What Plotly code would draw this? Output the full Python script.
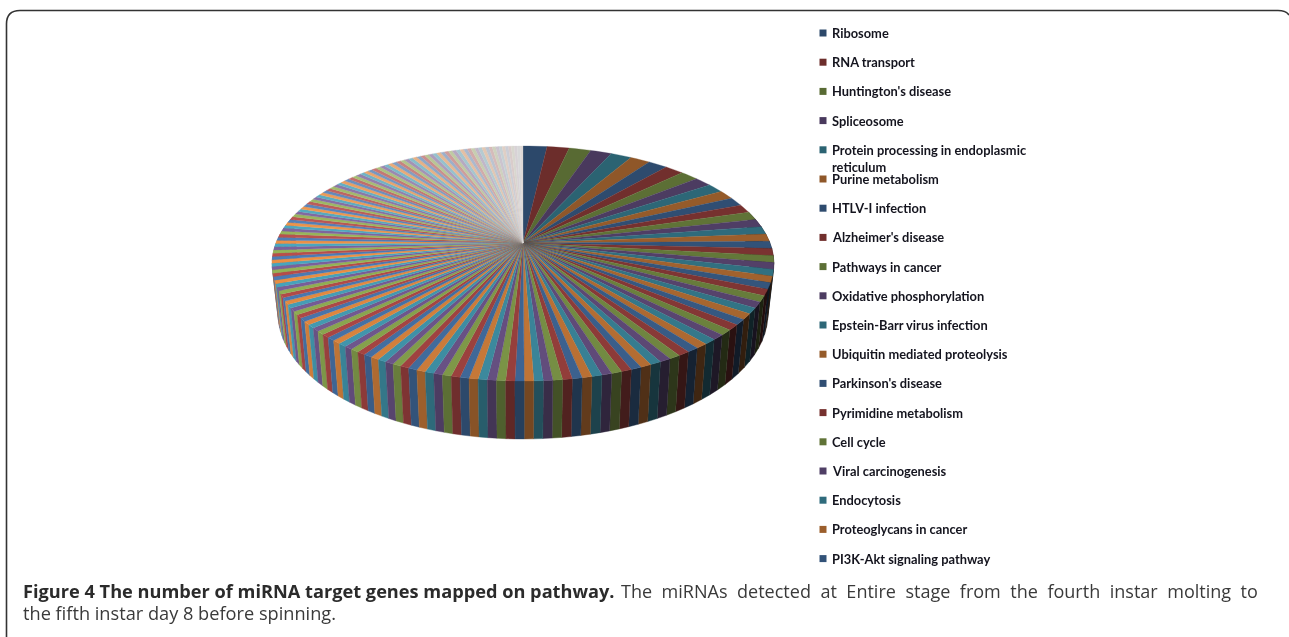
import math
import plotly.graph_objects as go

pathway_names = [
    "Ribosome", "RNA transport", "Huntington's disease", "Spliceosome",
    "Protein processing in endoplasmic<br>reticulum", "Purine metabolism",
    "HTLV-I infection", "Alzheimer's disease", "Pathways in cancer",
    "Oxidative phosphorylation", "Epstein-Barr virus infection",
    "Ubiquitin mediated proteolysis", "Parkinson's disease",
    "Pyrimidine metabolism", "Cell cycle", "Viral carcinogenesis",
    "Endocytosis", "Proteoglycans in cancer", "PI3K-Akt signaling pathway",
]

target_gene_counts = [
    115, 106, 104, 102, 100, 96, 93, 90, 87, 84, 80, 78, 75, 73, 71, 69, 67, 65, 63, 61,
    59, 57, 56, 55, 54, 53, 52, 51, 50, 49, 48, 47, 46, 45, 44, 43, 42, 41, 40, 40,
    39, 38, 37, 36, 36, 35, 35, 34, 34, 33, 33, 32, 32, 32, 31, 31,
    31, 31, 31, 31, 31, 31, 31, 31, 31, 31, 31, 31,
    30, 30, 30, 30, 30, 30, 30, 30, 30, 30, 30, 30, 30, 30, 30,
    29, 29, 29, 29, 29, 29, 29, 29, 29, 29, 29, 29, 29, 29,
    28, 28, 28, 28, 28, 28, 28, 28, 28, 28, 28, 28, 28, 28,
    27, 27, 27, 27, 27, 27, 26, 26, 26, 26, 26, 26,
    25, 25, 25, 25, 25, 25, 24, 24, 24, 24, 24, 24,
    23, 23, 23, 23, 23, 23, 22, 22, 22, 22, 22,
    21, 21, 21, 21, 21, 20, 20, 20, 20, 20,
    19, 19, 19, 19, 19, 18, 18, 18, 18,
    17, 17, 17, 17, 16, 16, 16, 15, 15, 15,
    14, 14, 14, 14, 14,
]

base_colors = [(79, 129, 189), (192, 80, 77), (155, 187, 89),
               (128, 100, 162), (75, 172, 198), (247, 150, 70)]
faded_color = (222, 218, 218)

caption_bold = "Figure 4 The number of miRNA target genes mapped on pathway."
caption_rest = "The miRNAs detected at Entire stage from the fourth instar molting to"
caption_line2 = "the fifth instar day 8 before spinning."

W, H = 1289, 637
CX, CY = 523.0, 243.0
A, B, C = 247.0, 113.9, 0.1745
RIM_MID, RIM_RY, BASE_MID, BASE_RY, BASE_SCALE = 263.5, 117.5, 314.0, 125.0, 245.0 / 251.0


def project(theta):
    den = 1 + C * math.cos(theta)
    return CX + A * math.sin(theta) / den, CY - B * math.cos(theta) / den


def base_point(theta):
    x, y = project(theta)
    return CX + (x - CX) * BASE_SCALE, BASE_MID + (y - RIM_MID) * BASE_RY / RIM_RY


def wedge_rgb(i, n):
    base = base_colors[i % 6]
    mid = n * 0.55
    if i <= mid:
        f = 0.56 + 0.40 * i / mid
        return tuple(c * f for c in base)
    t = ((i - mid) / (n - mid)) ** 1.7
    return tuple(0.96 * c * (1 - t) + g * t for c, g in zip(base, faded_color))


def css(rgb, f=1.0):
    return "rgb(%d,%d,%d)" % tuple(max(0, min(255, round(c * f))) for c in rgb)


total = sum(target_gene_counts)
n = len(target_gene_counts)
edges = [0.0]
for v in target_gene_counts:
    edges.append(edges[-1] + v / total * 2 * math.pi)

fig = go.Figure()

# side wall, back to front
wall = [i for i in range(n) if math.cos((edges[i] + edges[i + 1]) / 2) < 0.25]
wall.sort(key=lambda i: -math.cos((edges[i] + edges[i + 1]) / 2))
for i in wall:
    t0, t1 = edges[i], edges[i + 1]
    ts = [t0 + (t1 - t0) * k / 3 for k in range(4)]
    top = [project(t) for t in ts]
    bot = [base_point(t) for t in reversed(ts)]
    pts = top + bot + [top[0]]
    xm = (top[0][0] + top[-1][0]) / 2
    shade = 0.62 - 0.36 * (xm - CX) / 251.0
    col = css(wedge_rgb(i, n), shade)
    fig.add_trace(go.Scatter(x=[p[0] for p in pts], y=[p[1] for p in pts], mode="lines",
                             fill="toself", fillcolor=col, line=dict(color=col, width=0.4),
                             hoverinfo="skip", showlegend=False))

# top face
for i in range(n):
    t0, t1 = edges[i], edges[i + 1]
    pts = [(CX, CY)] + [project(t0 + (t1 - t0) * k / 4) for k in range(5)] + [(CX, CY)]
    col = css(wedge_rgb(i, n))
    label = pathway_names[i].replace("<br>", " ") if i < len(pathway_names) else "Pathway %d" % (i + 1)
    fig.add_trace(go.Scatter(x=[p[0] for p in pts], y=[p[1] for p in pts], mode="lines",
                             fill="toself", fillcolor=col, line=dict(color=col, width=0.3),
                             name=label, showlegend=False,
                             text=label, hoverinfo="text"))

# legend
LEG_X, LEG_Y0, LEG_STEP = 823.0, 33.0, 29.2
annotations = []
for i, name in enumerate(pathway_names):
    y = LEG_Y0 + LEG_STEP * i
    fig.add_trace(go.Scatter(x=[LEG_X], y=[y], mode="markers",
                             marker=dict(symbol="square", size=7, color=css(wedge_rgb(i, n))),
                             hoverinfo="skip", showlegend=False))
    for j, part in enumerate(name.split("<br>")):
        annotations.append(dict(x=LEG_X + 7, y=y + 17 * j, xref="x", yref="y", text=part,
                                showarrow=False, xanchor="left", yanchor="middle",
                                font=dict(family="Lato", size=12.85, color="#14141e", weight=700)))

# the first caption line is justified in the reference: words are spread with thin spaces
SPREAD = " \u2009\u200a"
annotations.append(dict(x=21, y=591, xref="x", yref="y", showarrow=False, xanchor="left", yanchor="middle",
                        text="<b>%s</b>" % caption_bold,
                        font=dict(family="Open Sans", size=18.2, color="#2b2b2b")))
annotations.append(dict(x=1260, y=591, xref="x", yref="y", showarrow=False, xanchor="right", yanchor="middle",
                        text=caption_rest.replace(" ", SPREAD),
                        font=dict(family="Open Sans", size=18.05, color="#3a3a3a")))
annotations.append(dict(x=21, y=613, xref="x", yref="y", showarrow=False, xanchor="left", yanchor="middle",
                        text=caption_line2, font=dict(family="Open Sans", size=18.2, color="#3a3a3a")))

fig.update_layout(
    width=W, height=H, margin=dict(l=0, r=0, t=0, b=0),
    paper_bgcolor="white", plot_bgcolor="white", showlegend=False,
    xaxis=dict(range=[0, W], visible=False, fixedrange=True),
    yaxis=dict(range=[H, 0], visible=False, fixedrange=True),
    annotations=annotations,
    shapes=[dict(type="path", xref="x", yref="y",
                 path="M 6.5 637 L 6.5 24 Q 6.5 10.5 20 10.5 L 1278 10.5 Q 1286 10.5 1289 15",
                 line=dict(color="#333333", width=1.6))],
)
fig.write_html(
    "out.html",
    config={"displayModeBar": False},
    post_script="document.body.style.margin='0';document.documentElement.style.overflow='hidden';"
                "document.querySelector('.plotly-graph-div').style.filter='blur(0.45px)';",
)
